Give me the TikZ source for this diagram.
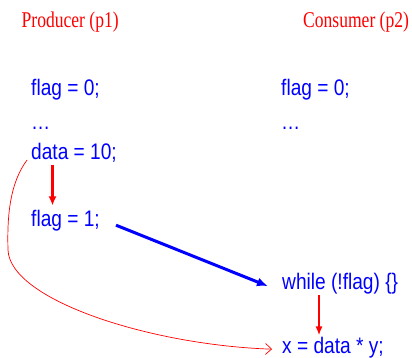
\documentclass[tikz,border=0pt]{standalone}
\usepackage{fontspec}
\newfontfamily\titlefont{Liberation Serif}[FakeStretch=0.78]
\newfontfamily\codefont{Liberation Sans}[FakeStretch=0.85]
\usetikzlibrary{arrows.meta}

\begin{document}
\begin{tikzpicture}[x=1pt, y=-1pt,
  % Node styles
  title/.style={anchor=base west, inner sep=0pt, text=red,
                font=\titlefont\fontsize{22.5}{27}\selectfont},
  code/.style={anchor=base west, inner sep=0pt, text=blue,
               font=\codefont\fontsize{22.5}{27}\selectfont},
  % Arrow styles
  orderarr/.style={-{Latex[length=9pt,width=8pt]}, line width=3pt, red},
  orderthin/.style={-{Latex[length=9pt,width=7pt]}, line width=2pt, red},
  flagarr/.style={-{Latex[length=11pt,width=9pt]}, line width=3pt, blue},
  dataarr/.style={-{Straight Barb[length=6pt,width=11pt]}, line width=0.7pt, red},
]
  \useasboundingbox (0,0) rectangle (412,358);

  % ── Titles ──
  \node[title] (producer) at (21.5,28) {Producer (p1)};
  \node[title] (consumer) at (303,28) {Consumer (p2)};

  % ── Producer code ──
  \node[code] (pflag0) at (31,96) {flag = 0;};
  \node[code] (pdots)  at (31,130) {…};
  \node[code] (pdata)  at (31,160) {data = 10;};
  \node[code] (pflag1) at (31,226) {flag = 1;};

  % ── Consumer code ──
  \node[code] (cflag0) at (281,96) {flag = 0;};
  \node[code] (cdots)  at (281,130) {…};
  \node[code] (cwhile) at (282,289) {while (!flag) \{\}};
  \node[code] (cx)     at (282,353) {x = data * y;};

  % ── Program order arrows ──
  \draw[orderarr] ([xshift=21.5pt, yshift=-2pt]pdata.south west)
    -- ([xshift=21.5pt, yshift=4pt]pflag1.north west);
  \draw[orderthin] ([xshift=37pt, yshift=-1.5pt]cwhile.south west)
    -- ([xshift=37pt, yshift=1pt]cx.north west);

  % ── flag: producer to consumer ──
  \draw[flagarr] ([xshift=16pt, yshift=-5pt]pflag1.east)
    -- ([xshift=-14pt, yshift=-3pt]cwhile.west);

  % ── data: curved around the left side ──
  \coordinate (bend) at (8,250);
  \draw[dataarr] ([xshift=-4pt, yshift=3pt]pdata.south west)
    .. controls (10,183) and (7,215) .. (bend)
    .. controls (10,300) and (150,345) .. ([xshift=-10pt, yshift=-2pt]cx.west);

\end{tikzpicture}
\end{document}
